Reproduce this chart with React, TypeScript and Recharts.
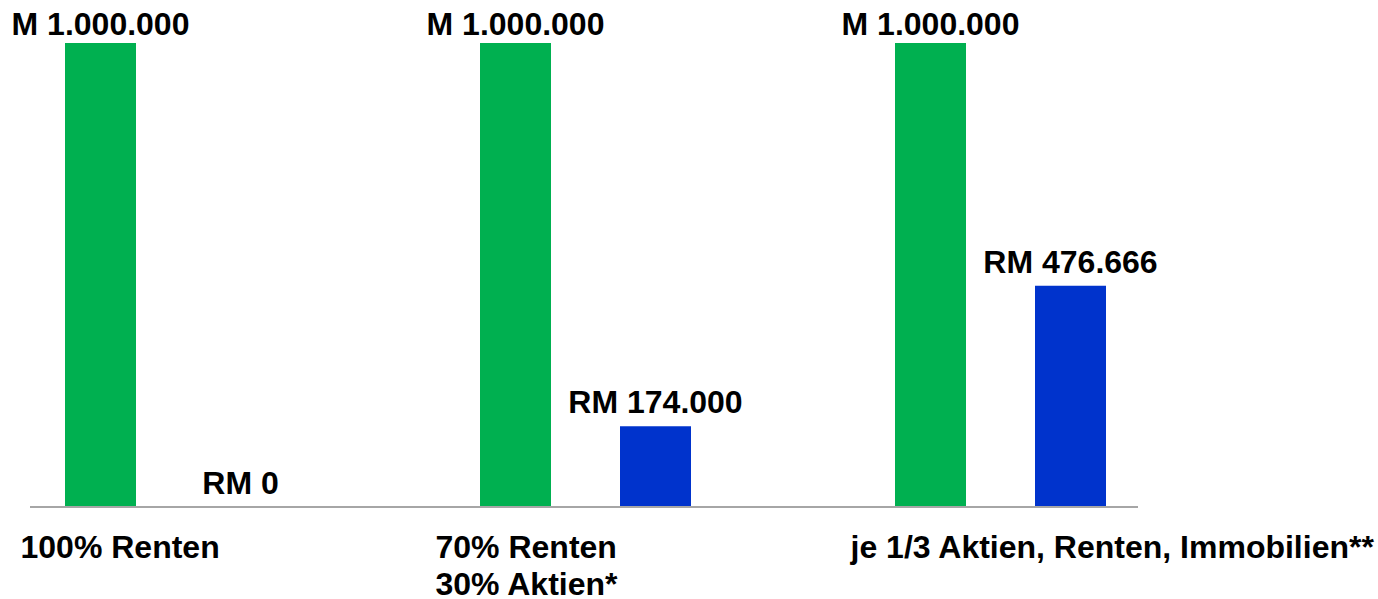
import React from 'react';
import { BarChart, Bar, XAxis, YAxis, LabelList } from 'recharts';

const categories = ['100% Renten', '70% Renten\n30% Aktien*', 'je 1/3 Aktien, Renten, Immobilien**'];
const einsatz = [1000000, 1000000, 1000000];
const rendite = [0, 174000, 476666];

const data = categories.map((name, i) => ({ name, einsatz: einsatz[i], rendite: rendite[i] }));

const FONT = '"Liberation Sans", Arial, sans-serif';

// 1000000 -> 1.000.000
const fmt = (v: number) => String(Math.round(v)).replace(/\B(?=(\d{3})+(?!\d))/g, '.');

const CategoryTick = ({ x, y, payload }: any) => {
  const lines = String(payload.value).split('\n');
  return (
    <text x={x - 150} y={y + 51} textAnchor="start" fontFamily={FONT} fontWeight="bold" fontSize={32} fill="#000">
      {lines.map((l, i) => (
        <tspan key={i} x={x - 150} dy={i === 0 ? 0 : 37}>
          {l}
        </tspan>
      ))}
    </text>
  );
};

const makeLabel = (prefix: string, gap: number) => (props: any) => {
  const { x, y, width, height, value } = props;
  const top = Math.min(Number(y), Number(y) + Number(height || 0));
  return (
    <text
      x={Number(x) + Number(width) / 2}
      y={top - gap}
      textAnchor="middle"
      fontFamily={FONT}
      fontWeight="bold"
      fontSize={32}
      fill="#000"
    >
      {prefix + fmt(Number(value))}
    </text>
  );
};

export default function App() {
  return (
    <div style={{ position: 'absolute', left: 0, top: 0, width: 1378, height: 599, background: '#fff' }}>
      <BarChart
        width={1378}
        height={599}
        data={data}
        margin={{ top: 43, right: 240, bottom: 0, left: 30 }}
        barSize={71}
        barGap={69}
      >
        <XAxis
          dataKey="name"
          height={92}
          padding={{ left: -67, right: -70 }}
          axisLine={{ stroke: '#a6a6a6', strokeWidth: 2 }}
          tickLine={false}
          tickSize={0}
          tickMargin={0}
          interval={0}
          tick={<CategoryTick />}
        />
        <YAxis hide domain={[0, 1000000]} />
        <Bar dataKey="einsatz" fill="#00b050" isAnimationActive={false}>
          <LabelList dataKey="einsatz" content={makeLabel('M ', 8)} />
        </Bar>
        <Bar
          dataKey="rendite"
          fill="#0033cc"
          isAnimationActive={false}
          minPointSize={(v: any) => (Number(v) === 0 ? 0.01 : 0)}
        >
          <LabelList dataKey="rendite" content={makeLabel('RM ', 13)} />
        </Bar>
      </BarChart>
    </div>
  );
}
